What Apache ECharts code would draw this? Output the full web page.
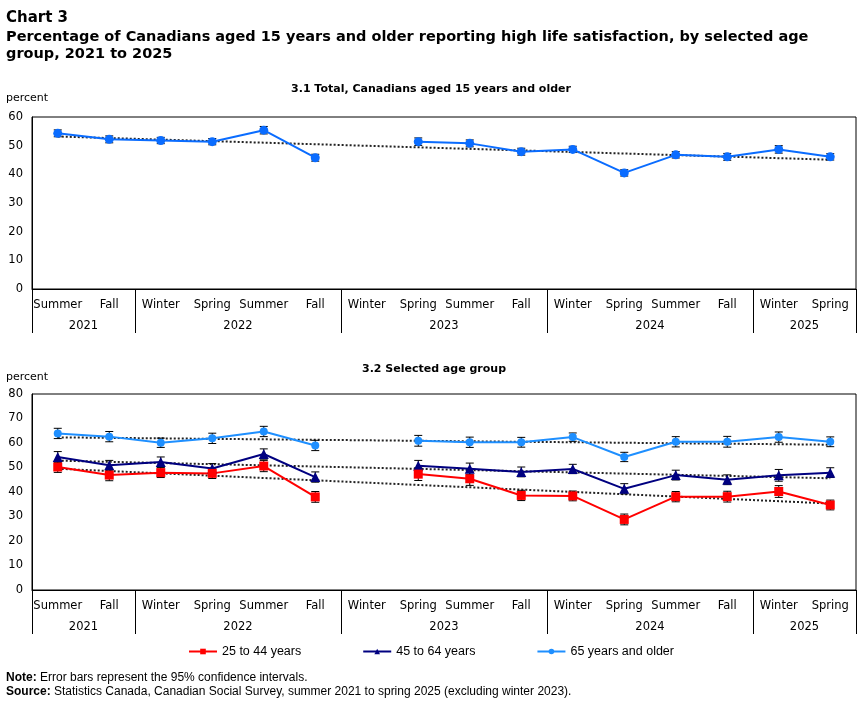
<!DOCTYPE html>
<html>
<head>
<meta charset="utf-8">
<script src="https://cdn.jsdelivr.net/npm/echarts@6/dist/echarts.min.js"></script>
<style>
  html, body { margin: 0; padding: 0; background: #fff; }
  #main { width: 864px; height: 702px; }
</style>
</head>
<body>
<div id="main"></div>
<script>
// season labels and the year each group belongs to
var seasons = ['Summer', 'Fall', 'Winter', 'Spring', 'Summer', 'Fall', 'Winter', 'Spring',
               'Summer', 'Fall', 'Winter', 'Spring', 'Summer', 'Fall', 'Winter', 'Spring'];
var years = ['2021', '2022', '2023', '2024', '2025'];
var yearSpans = [2, 4, 4, 4, 2];

// 3.1 total (winter 2023 not collected)
var total = [54.3, 52.2, 51.8, 51.4, 55.4, 45.8, null, 51.4, 50.8, 47.9, 48.7, 40.5, 46.8, 46.1, 48.7, 46.1];
var totalCI = [1.2, 1.2, 1.1, 1.1, 1.3, 1.2, null, 1.3, 1.2, 1.2, 1.1, 1.1, 1.1, 1.2, 1.3, 1.1];
var totalTrend = [53.2, 45.1];

// 3.2 age groups
var age25 = [50.2, 46.9, 47.9, 47.6, 50.6, 38.0, null, 47.3, 45.4, 38.6, 38.4, 28.8, 38.1, 38.1, 40.2, 34.7];
var age25CI = [2.2, 2.3, 2.0, 2.1, 2.3, 2.2, null, 2.6, 2.7, 2.1, 2.0, 2.2, 2.1, 2.2, 2.4, 2.0];
var age25Trend = [49.5, 35.3];

var age45 = [54.3, 50.9, 52.2, 49.6, 55.5, 46.1, null, 50.7, 49.5, 48.2, 49.4, 41.3, 46.9, 45.0, 46.8, 47.9];
var age45CI = [2.2, 2.0, 2.1, 2.0, 2.1, 2.1, null, 2.2, 2.3, 2.0, 1.9, 2.1, 2.0, 2.0, 2.4, 2.0];
var age45Trend = [52.8, 45.6];

var age65 = [63.9, 62.6, 60.1, 61.9, 64.7, 59.0, null, 60.9, 60.3, 60.3, 62.4, 54.3, 60.5, 60.5, 62.4, 60.5];
var age65CI = [2.1, 2.1, 1.9, 2.1, 2.1, 2.1, null, 2.2, 2.1, 2.0, 1.7, 1.9, 2.1, 2.2, 2.1, 2.0];
var age65Trend = [62.3, 59.3];

var chart = echarts.init(document.getElementById('main'));

var verdana = 'DejaVu Sans, Verdana, sans-serif';
var tahoma = 'Liberation Sans, Tahoma, sans-serif';

// year axis uses half-category slots so separators sit on group edges
var slots = [];
var edges = [0], centres = {};
var pos = 0;
for (var i = 0; i <= seasons.length * 2; i++) slots.push('');
yearSpans.forEach(function (span, k) {
    centres[pos + span] = years[k];
    pos += span * 2;
    edges.push(pos);
});

function trendData(ends) {
    return seasons.map(function (s, i) {
        if (i === 0) return ends[0];
        if (i === seasons.length - 1) return ends[1];
        return null;
    });
}

function errData(vals, ci) {
    var out = [];
    vals.forEach(function (v, i) {
        if (v != null) out.push([i, v - ci[i], v + ci[i]]);
    });
    return out;
}

function errorBars(gi, vals, ci) {
    return {
        type: 'custom',
        xAxisIndex: gi * 2,
        yAxisIndex: gi,
        z: 2,
        silent: true,
        data: errData(vals, ci),
        renderItem: function (params, api) {
            var lo = api.coord([api.value(0), api.value(1)]);
            var hi = api.coord([api.value(0), api.value(2)]);
            var st = { stroke: '#000', lineWidth: 1 };
            return {
                type: 'group',
                children: [
                    { type: 'line', shape: { x1: lo[0], y1: lo[1], x2: hi[0], y2: hi[1] }, style: st },
                    { type: 'line', shape: { x1: lo[0] - 4, y1: lo[1], x2: lo[0] + 4, y2: lo[1] }, style: st },
                    { type: 'line', shape: { x1: hi[0] - 4, y1: hi[1], x2: hi[0] + 4, y2: hi[1] }, style: st }
                ]
            };
        }
    };
}

function trendLine(gi, ends) {
    return {
        type: 'line',
        xAxisIndex: gi * 2,
        yAxisIndex: gi,
        data: trendData(ends),
        connectNulls: true,
        symbol: 'none',
        silent: true,
        z: 1,
        lineStyle: { color: '#222', width: 2, type: [2, 2] }
    };
}

function dataLine(gi, name, vals, color, symbol, size) {
    return {
        type: 'line',
        name: name,
        xAxisIndex: gi * 2,
        yAxisIndex: gi,
        data: vals,
        symbol: symbol,
        symbolSize: size,
        showAllSymbol: true,
        z: 3,
        lineStyle: { color: color, width: 2 },
        itemStyle: { color: color }
    };
}

function seasonAxis(gi) {
    return {
        type: 'category',
        gridIndex: gi,
        data: seasons,
        boundaryGap: true,
        axisLine: { lineStyle: { color: '#000', width: 1 } },
        axisTick: { inside: true, alignWithLabel: true, length: 4, lineStyle: { color: '#000' } },
        axisLabel: { margin: 10, color: '#000', fontFamily: verdana, fontSize: 11.5, interval: 0 },
        splitLine: { show: false }
    };
}

function yearAxis(gi) {
    return {
        type: 'category',
        gridIndex: gi,
        data: slots,
        boundaryGap: false,
        position: 'bottom',
        axisLine: { show: false },
        axisTick: {
            show: true, inside: false, length: 44,
            interval: function (idx) { return edges.indexOf(idx) >= 0; },
            lineStyle: { color: '#000' }
        },
        axisLabel: {
            margin: 31, color: '#000', fontFamily: verdana, fontSize: 11.5,
            interval: function (idx) { return centres[idx] !== undefined; },
            formatter: function (v, idx) { return centres[idx] || ''; }
        },
        splitLine: { show: false }
    };
}

function valueAxis(gi, max) {
    return {
        type: 'value',
        gridIndex: gi,
        min: 0,
        max: max,
        interval: 10,
        axisLine: { show: true, lineStyle: { color: '#000' } },
        axisTick: { show: false },
        splitLine: { show: false },
        axisLabel: { margin: 9, color: '#000', fontFamily: verdana, fontSize: 11.5 }
    };
}

var c25 = '#ff0000', c45 = '#000080', c65 = '#1e8fff';

var option = {
    backgroundColor: '#fff',
    animation: false,
    title: [
        { text: 'Chart 3', left: 6, top: 11, padding: 0,
          textStyle: { fontFamily: verdana, fontSize: 15, fontWeight: 'bold', color: '#000' } },
        { text: 'Percentage of Canadians aged 15 years and older reporting high life satisfaction, by selected age\ngroup, 2021 to 2025',
          left: 6, top: 28, padding: 0,
          textStyle: { fontFamily: verdana, fontSize: 14.5, fontWeight: 'bold', color: '#000', lineHeight: 17.5 } },
        { text: '3.1 Total, Canadians aged 15 years and older', left: 431, textAlign: 'center', top: 84, padding: 0,
          textStyle: { fontFamily: verdana, fontSize: 11, fontWeight: 'bold', color: '#000' } },
        { text: 'percent', left: 6, top: 93, padding: 0,
          textStyle: { fontFamily: verdana, fontSize: 11, fontWeight: 'normal', color: '#000' } },
        { text: '3.2 Selected age group', left: 434, textAlign: 'center', top: 364, padding: 0,
          textStyle: { fontFamily: verdana, fontSize: 11, fontWeight: 'bold', color: '#000' } },
        { text: 'percent', left: 6, top: 372, padding: 0,
          textStyle: { fontFamily: verdana, fontSize: 11, fontWeight: 'normal', color: '#000' } },
        { text: '{b|Note:} Error bars represent the 95% confidence intervals.\n{b|Source:} Statistics Canada, Canadian Social Survey, summer 2021 to spring 2025 (excluding winter 2023).',
          left: 6, top: 671, padding: 0,
          textStyle: { fontFamily: tahoma, fontSize: 12, fontWeight: 'normal', color: '#000', lineHeight: 14,
                       rich: { b: { fontFamily: tahoma, fontSize: 12, fontWeight: 'bold', color: '#000' } } } }
    ],
    legend: {
        data: ['25 to 44 years', '45 to 64 years', '65 years and older'],
        left: 188,
        top: 645,
        padding: 0,
        itemWidth: 28,
        itemHeight: 7,
        itemGap: 61,
        textStyle: { fontFamily: tahoma, fontSize: 12.5, color: '#000' }
    },
    grid: [
        { left: 32, right: 8, top: 117, height: 172, show: true, borderColor: '#000', borderWidth: 1, backgroundColor: 'transparent' },
        { left: 32, right: 8, top: 394, height: 196, show: true, borderColor: '#000', borderWidth: 1, backgroundColor: 'transparent' }
    ],
    xAxis: [seasonAxis(0), yearAxis(0), seasonAxis(1), yearAxis(1)],
    yAxis: [valueAxis(0, 60), valueAxis(1, 80)],
    series: [
        trendLine(0, totalTrend),
        errorBars(0, total, totalCI),
        dataLine(0, 'Total', total, '#0a6cff', 'circle', 9),

        trendLine(1, age65Trend),
        trendLine(1, age45Trend),
        trendLine(1, age25Trend),
        errorBars(1, age65, age65CI),
        errorBars(1, age45, age45CI),
        errorBars(1, age25, age25CI),
        dataLine(1, '65 years and older', age65, c65, 'circle', 8),
        dataLine(1, '45 to 64 years', age45, c45, 'triangle', 10),
        dataLine(1, '25 to 44 years', age25, c25, 'rect', 9)
    ]
};

chart.setOption(option);
</script>
</body>
</html>
